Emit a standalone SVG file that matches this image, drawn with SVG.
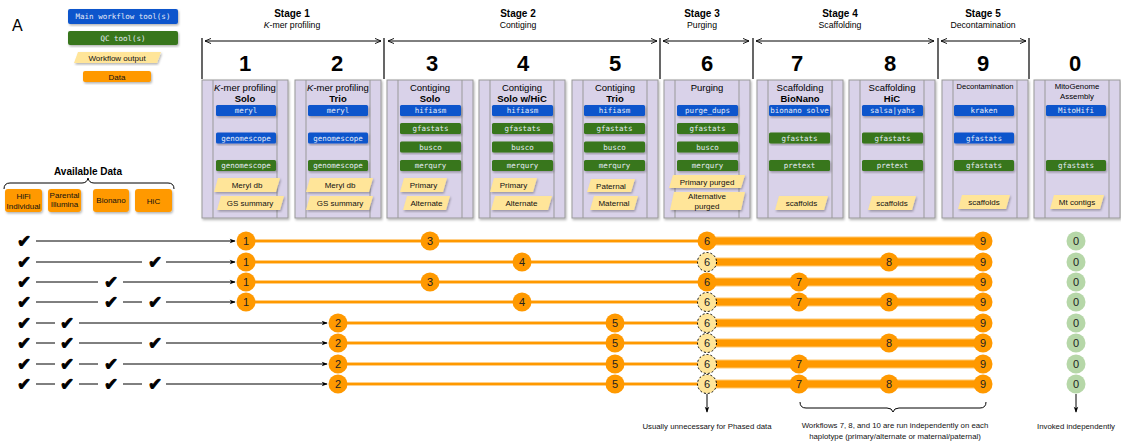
<svg xmlns="http://www.w3.org/2000/svg" width="1121" height="445" viewBox="0 0 1121 445">
<defs>
<filter id="sh" x="-20%" y="-20%" width="140%" height="140%"><feDropShadow dx="1" dy="1.5" stdDeviation="0.8" flood-color="#000" flood-opacity="0.3"/></filter>
<marker id="ah2" viewBox="0 0 8 8" refX="7" refY="4" markerWidth="7" markerHeight="7" orient="auto-start-reverse" markerUnits="userSpaceOnUse"><path d="M0,1 L7,4 L0,7" fill="none" stroke="#000" stroke-width="1"/></marker>
<marker id="ah" viewBox="0 0 8 8" refX="7" refY="4" markerWidth="7" markerHeight="6" orient="auto" markerUnits="userSpaceOnUse"><path d="M0,1 L8,4 L0,7 L2,4 Z" fill="#000"/></marker>
</defs>
<style>
text{font-family:"Liberation Sans",Arial,sans-serif;fill:#000}
.mono{font-family:"DejaVu Sans Mono","Liberation Mono",monospace;font-size:7.5px;fill:#e6ebf7;text-anchor:middle}
.blue{fill:#1155cc}
.green{fill:#38761d}
.out{fill:#ffe599}
.ot{font-size:8px;text-anchor:middle;fill:#111}
.box{fill:#d9d2e9;stroke:#999;stroke-width:1}
.inner{stroke:#999;stroke-width:1}
.bt{font-size:9.5px;text-anchor:middle}
.bb{font-size:9.5px;text-anchor:middle;font-weight:bold}
.st{font-size:10px;font-weight:bold;text-anchor:middle}
.ss{font-size:8.7px;text-anchor:middle}
.num{font-size:22px;font-weight:bold;text-anchor:middle}
.vl{stroke:#000;stroke-width:1.2}
.dbl{stroke:#000;stroke-width:1;marker-start:url(#ah2);marker-end:url(#ah2)}
.data{fill:#ff9900}
.dt{font-size:8px;text-anchor:middle;fill:#111}
.chk{font-family:"DejaVu Sans",sans-serif;font-size:17px;text-anchor:middle;fill:#000;stroke:#000;stroke-width:0.9;stroke-linejoin:round}
.bl{stroke:#000;stroke-width:1}
.bla{stroke:#000;stroke-width:1;marker-end:url(#ah)}
.thin0{stroke:#ffd08a;stroke-width:4}
.thin{stroke:#ff9900;stroke-width:2}
.thick0{stroke:#ffc870;stroke-width:9}
.thick{stroke:#ff9900;stroke-width:7}
.c{fill:#ff9900}
.cd{fill:#ffe599;stroke:#000;stroke-width:1;stroke-dasharray:2,2}
.cg{fill:#b6d7a8}
.ct{font-size:11px;text-anchor:middle;fill:#222}
.note{font-size:7.8px;text-anchor:middle;fill:#111}
</style>

<g id="legend">
<text x="12" y="31" style="font-size:16px">A</text>
<rect x="68" y="9" width="110" height="15" rx="2" class="blue" filter="url(#sh)"/>
<text x="123" y="19" class="mono">Main workflow tool(s)</text>
<rect x="68" y="31" width="110" height="14" rx="2" class="green" filter="url(#sh)"/>
<text x="123" y="40.5" class="mono">QC tool(s)</text>
<path d="M78,52 L161,52 L157,63 L74,63 Z" class="out" filter="url(#sh)"/>
<text x="117" y="60.5" class="ot">Workflow output</text>
<rect x="83" y="71" width="68" height="11" rx="2" class="data" filter="url(#sh)"/>
<text x="117" y="79.5" class="dt">Data</text>
</g>

<g id="stages">
<text x="292" y="17" class="st">Stage 1</text>
<text x="292" y="28" class="ss"><tspan font-style="italic">K</tspan>-mer profiling</text>
<text x="518" y="17" class="st">Stage 2</text>
<text x="518" y="28" class="ss">Contiging</text>
<text x="702" y="17" class="st">Stage 3</text>
<text x="702" y="28" class="ss">Purging</text>
<text x="840" y="17" class="st">Stage 4</text>
<text x="840" y="28" class="ss">Scaffolding</text>
<text x="983" y="17" class="st">Stage 5</text>
<text x="983" y="28" class="ss">Decontamination</text>
<line x1="202" y1="38" x2="202" y2="79" class="vl"/>
<line x1="384" y1="38" x2="384" y2="79" class="vl"/>
<line x1="660" y1="38" x2="660" y2="79" class="vl"/>
<line x1="753" y1="38" x2="753" y2="79" class="vl"/>
<line x1="938" y1="38" x2="938" y2="79" class="vl"/>
<line x1="1029" y1="38" x2="1029" y2="79" class="vl"/>
<line x1="205" y1="41" x2="381" y2="41" class="dbl"/>
<line x1="388" y1="41" x2="657" y2="41" class="dbl"/>
<line x1="663" y1="41" x2="749" y2="41" class="dbl"/>
<line x1="756" y1="41" x2="934" y2="41" class="dbl"/>
<line x1="941" y1="41" x2="1026" y2="41" class="dbl"/>
<text x="245" y="71" class="num">1</text>
<text x="337" y="71" class="num">2</text>
<text x="432" y="71" class="num">3</text>
<text x="523" y="71" class="num">4</text>
<text x="615" y="71" class="num">5</text>
<text x="707" y="71" class="num">6</text>
<text x="797" y="71" class="num">7</text>
<text x="890" y="71" class="num">8</text>
<text x="983" y="71" class="num">9</text>
<text x="1075" y="71" class="num">0</text>
</g>

<g id="wf1">
<rect x="202" y="80" width="86" height="138" class="box" filter="url(#sh)"/>
<line x1="213" y1="80" x2="213" y2="218" class="inner"/><line x1="277" y1="80" x2="277" y2="218" class="inner"/>
<text x="245" y="91" class="bt"><tspan font-style="italic">K</tspan>-mer profiling</text>
<text x="245" y="102" class="bb">Solo</text>
<rect x="216" y="105" width="60" height="11" rx="1.5" class="blue" filter="url(#sh)"/><text x="246" y="113" class="mono">meryl</text>
<rect x="216" y="132.5" width="60" height="11" rx="1.5" class="blue" filter="url(#sh)"/><text x="246" y="140.5" class="mono">genomescope</text>
<rect x="216" y="160" width="60" height="11" rx="1.5" class="green" filter="url(#sh)"/><text x="246" y="168" class="mono">genomescope</text>
<path d="M218,178 L280,178 L276,192 L214,192 Z" class="out" filter="url(#sh)"/><text x="247" y="188" class="ot">Meryl db</text>
<path d="M221,196 L284,196 L280,210 L217,210 Z" class="out" filter="url(#sh)"/><text x="250" y="206" class="ot">GS summary</text>
</g>

<g id="wf2">
<rect x="295" y="80" width="86" height="138" class="box" filter="url(#sh)"/>
<line x1="306" y1="80" x2="306" y2="218" class="inner"/><line x1="370" y1="80" x2="370" y2="218" class="inner"/>
<text x="338" y="91" class="bt"><tspan font-style="italic">K</tspan>-mer profiling</text>
<text x="338" y="102" class="bb">Trio</text>
<rect x="308" y="105" width="60" height="11" rx="1.5" class="blue" filter="url(#sh)"/><text x="338" y="113" class="mono">meryl</text>
<rect x="308" y="132.5" width="60" height="11" rx="1.5" class="blue" filter="url(#sh)"/><text x="338" y="140.5" class="mono">genomescope</text>
<rect x="308" y="160" width="60" height="11" rx="1.5" class="green" filter="url(#sh)"/><text x="338" y="168" class="mono">genomescope</text>
<path d="M310,178 L373,178 L369,192 L306,192 Z" class="out" filter="url(#sh)"/><text x="340" y="188" class="ot">Meryl db</text>
<path d="M310,196 L373,196 L369,210 L306,210 Z" class="out" filter="url(#sh)"/><text x="340" y="206" class="ot">GS summary</text>
</g>

<g id="wf3">
<rect x="387" y="80" width="86" height="138" class="box" filter="url(#sh)"/>
<line x1="398" y1="80" x2="398" y2="218" class="inner"/><line x1="462" y1="80" x2="462" y2="218" class="inner"/>
<text x="430" y="91" class="bt">Contiging</text>
<text x="430" y="102" class="bb">Solo</text>
<rect x="400" y="105" width="61" height="11" rx="1.5" class="blue" filter="url(#sh)"/><text x="430.5" y="113" class="mono">hifiasm</text>
<rect x="400" y="123" width="61" height="11" rx="1.5" class="green" filter="url(#sh)"/><text x="430.5" y="131" class="mono">gfastats</text>
<rect x="400" y="141.5" width="61" height="11" rx="1.5" class="green" filter="url(#sh)"/><text x="430.5" y="149.5" class="mono">busco</text>
<rect x="400" y="160" width="61" height="11" rx="1.5" class="green" filter="url(#sh)"/><text x="430.5" y="168" class="mono">merqury</text>
<path d="M404,178 L447,178 L443,192 L400,192 Z" class="out" filter="url(#sh)"/><text x="423.5" y="188" class="ot">Primary</text>
<path d="M407,196 L450,196 L446,210 L403,210 Z" class="out" filter="url(#sh)"/><text x="426.5" y="206" class="ot">Alternate</text>
</g>

<g id="wf4">
<rect x="479" y="80" width="86" height="138" class="box" filter="url(#sh)"/>
<line x1="490" y1="80" x2="490" y2="218" class="inner"/><line x1="554" y1="80" x2="554" y2="218" class="inner"/>
<text x="522" y="91" class="bt">Contiging</text>
<text x="522" y="102" class="bb">Solo w/HiC</text>
<rect x="492" y="105" width="61" height="11" rx="1.5" class="blue" filter="url(#sh)"/><text x="522.5" y="113" class="mono">hifiasm</text>
<rect x="492" y="123" width="61" height="11" rx="1.5" class="green" filter="url(#sh)"/><text x="522.5" y="131" class="mono">gfastats</text>
<rect x="492" y="141.5" width="61" height="11" rx="1.5" class="green" filter="url(#sh)"/><text x="522.5" y="149.5" class="mono">busco</text>
<rect x="492" y="160" width="61" height="11" rx="1.5" class="green" filter="url(#sh)"/><text x="522.5" y="168" class="mono">merqury</text>
<path d="M494,178 L537,178 L533,192 L490,192 Z" class="out" filter="url(#sh)"/><text x="513.5" y="188" class="ot">Primary</text>
<path d="M495,196 L552,196 L548,210 L491,210 Z" class="out" filter="url(#sh)"/><text x="521.5" y="206" class="ot">Alternate</text>
</g>

<g id="wf5">
<rect x="572" y="80" width="86" height="138" class="box" filter="url(#sh)"/>
<line x1="583" y1="80" x2="583" y2="218" class="inner"/><line x1="647" y1="80" x2="647" y2="218" class="inner"/>
<text x="615" y="91" class="bt">Contiging</text>
<text x="615" y="102" class="bb">Trio</text>
<rect x="584" y="105" width="61" height="11" rx="1.5" class="blue" filter="url(#sh)"/><text x="614.5" y="113" class="mono">hifiasm</text>
<rect x="584" y="123" width="61" height="11" rx="1.5" class="green" filter="url(#sh)"/><text x="614.5" y="131" class="mono">gfastats</text>
<rect x="584" y="141.5" width="61" height="11" rx="1.5" class="green" filter="url(#sh)"/><text x="614.5" y="149.5" class="mono">busco</text>
<rect x="584" y="160" width="61" height="11" rx="1.5" class="green" filter="url(#sh)"/><text x="614.5" y="168" class="mono">merqury</text>
<path d="M591,179 L635,179 L631,192 L587,192 Z" class="out" filter="url(#sh)"/><text x="611" y="188.5" class="ot">Paternal</text>
<path d="M594,196 L638,196 L634,210 L590,210 Z" class="out" filter="url(#sh)"/><text x="614" y="206" class="ot">Maternal</text>
</g>

<g id="wf6">
<rect x="664" y="80" width="86" height="138" class="box" filter="url(#sh)"/>
<line x1="675" y1="80" x2="675" y2="218" class="inner"/><line x1="739" y1="80" x2="739" y2="218" class="inner"/>
<text x="707" y="91" class="bt">Purging</text>
<rect x="677" y="105" width="61" height="11" rx="1.5" class="blue" filter="url(#sh)"/><text x="707.5" y="113" class="mono">purge_dups</text>
<rect x="677" y="123" width="61" height="11" rx="1.5" class="green" filter="url(#sh)"/><text x="707.5" y="131" class="mono">gfastats</text>
<rect x="677" y="141.5" width="61" height="11" rx="1.5" class="green" filter="url(#sh)"/><text x="707.5" y="149.5" class="mono">busco</text>
<rect x="677" y="160" width="61" height="11" rx="1.5" class="green" filter="url(#sh)"/><text x="707.5" y="168" class="mono">merqury</text>
<path d="M673,175 L745,175 L741,188 L669,188 Z" class="out" filter="url(#sh)"/><text x="707" y="184.5" class="ot">Primary purged</text>
<path d="M674,192 L745,192 L741,210 L670,210 Z" class="out" filter="url(#sh)"/><text x="707" y="199" class="ot">Alternative</text><text x="707" y="208.5" class="ot">purged</text>
</g>

<g id="wf7">
<rect x="757" y="80" width="86" height="138" class="box" filter="url(#sh)"/>
<line x1="768" y1="80" x2="768" y2="218" class="inner"/><line x1="832" y1="80" x2="832" y2="218" class="inner"/>
<text x="800" y="91" class="bt">Scaffolding</text>
<text x="800" y="102" class="bb">BioNano</text>
<rect x="769" y="105" width="61" height="11" rx="1.5" class="blue" filter="url(#sh)"/><text x="799.5" y="113" class="mono">bionano solve</text>
<rect x="769" y="132.5" width="61" height="11" rx="1.5" class="green" filter="url(#sh)"/><text x="799.5" y="140.5" class="mono">gfastats</text>
<rect x="769" y="160" width="61" height="11" rx="1.5" class="green" filter="url(#sh)"/><text x="799.5" y="168" class="mono">pretext</text>
<path d="M779,196 L828,196 L824,210 L775,210 Z" class="out" filter="url(#sh)"/><text x="801.5" y="206" class="ot">scaffolds</text>
</g>

<g id="wf8">
<rect x="849" y="80" width="86" height="138" class="box" filter="url(#sh)"/>
<line x1="860" y1="80" x2="860" y2="218" class="inner"/><line x1="924" y1="80" x2="924" y2="218" class="inner"/>
<text x="892" y="91" class="bt">Scaffolding</text>
<text x="892" y="102" class="bb">HiC</text>
<rect x="862" y="105" width="61" height="11" rx="1.5" class="blue" filter="url(#sh)"/><text x="892.5" y="113" class="mono">salsa|yahs</text>
<rect x="862" y="132.5" width="61" height="11" rx="1.5" class="green" filter="url(#sh)"/><text x="892.5" y="140.5" class="mono">gfastats</text>
<rect x="862" y="160" width="61" height="11" rx="1.5" class="green" filter="url(#sh)"/><text x="892.5" y="168" class="mono">pretext</text>
<path d="M872,196 L916,196 L912,210 L868,210 Z" class="out" filter="url(#sh)"/><text x="892" y="206" class="ot">scaffolds</text>
</g>

<g id="wf9">
<rect x="942" y="80" width="86" height="138" class="box" filter="url(#sh)"/>
<line x1="953" y1="80" x2="953" y2="218" class="inner"/><line x1="1017" y1="80" x2="1017" y2="218" class="inner"/>
<text x="985" y="89" class="bt" style="font-size:7.6px">Decontamination</text>
<rect x="954" y="105" width="60" height="11" rx="1.5" class="blue" filter="url(#sh)"/><text x="984" y="113" class="mono">kraken</text>
<rect x="954" y="132.5" width="60" height="11" rx="1.5" class="blue" filter="url(#sh)"/><text x="984" y="140.5" class="mono">gfastats</text>
<rect x="954" y="160" width="60" height="11" rx="1.5" class="green" filter="url(#sh)"/><text x="984" y="168" class="mono">gfastats</text>
<path d="M962,195 L1010,195 L1006,209 L958,209 Z" class="out" filter="url(#sh)"/><text x="984" y="205" class="ot">scaffolds</text>
</g>

<g id="wf0">
<rect x="1034" y="80" width="86" height="138" class="box" filter="url(#sh)"/>
<line x1="1045" y1="80" x2="1045" y2="218" class="inner"/><line x1="1109" y1="80" x2="1109" y2="218" class="inner"/>
<text x="1077" y="89" class="bt" style="font-size:7.8px">MitoGenome</text>
<text x="1077" y="99" class="bt" style="font-size:7.8px">Assembly</text>
<rect x="1046" y="105" width="60" height="11" rx="1.5" class="blue" filter="url(#sh)"/><text x="1076" y="113" class="mono">MitoHifi</text>
<rect x="1046" y="160" width="60" height="11" rx="1.5" class="green" filter="url(#sh)"/><text x="1076" y="168" class="mono">gfastats</text>
<path d="M1054,195 L1104,195 L1100,209 L1050,209 Z" class="out" filter="url(#sh)"/><text x="1077" y="205" class="ot">Mt contigs</text>
</g>

<g id="available-data">
<text x="88" y="175" style="font-size:10px;font-weight:bold;text-anchor:middle">Available Data</text>
<path d="M4,189 Q4,183 10,183 L82,183 Q87,183 88,178 Q89,183 94,183 L168,183 Q174,183 174,189" fill="none" stroke="#000" stroke-width="1"/>
<rect x="5" y="189" width="37" height="23" rx="3" class="data" filter="url(#sh)"/><text x="23.5" y="199" class="dt">HiFi</text><text x="23.5" y="208.5" class="dt">Individual</text>
<rect x="48" y="189" width="33" height="23" rx="3" class="data" filter="url(#sh)"/><text x="64.5" y="197.5" class="dt">Parental</text><text x="64.5" y="207" class="dt">Illumina</text>
<rect x="93" y="189" width="36" height="23" rx="3" class="data" filter="url(#sh)"/><text x="111" y="203" class="dt">Bionano</text>
<rect x="135" y="189" width="37" height="23" rx="3" class="data" filter="url(#sh)"/><text x="153.5" y="204" class="dt">HiC</text>
</g>

<g id="connectors">
<line x1="36" y1="241" x2="235" y2="241" class="bla"/>
<line x1="36" y1="262" x2="142" y2="262" class="bl"/><line x1="166" y1="262" x2="235" y2="262" class="bla"/>
<line x1="36" y1="282" x2="98" y2="282" class="bl"/><line x1="123" y1="282" x2="235" y2="282" class="bla"/>
<line x1="36" y1="302" x2="98" y2="302" class="bl"/><line x1="123" y1="302" x2="142" y2="302" class="bl"/><line x1="166" y1="302" x2="235" y2="302" class="bla"/>
<line x1="36" y1="323" x2="55" y2="323" class="bl"/><line x1="79" y1="323" x2="327" y2="323" class="bla"/>
<line x1="36" y1="343" x2="55" y2="343" class="bl"/><line x1="79" y1="343" x2="142" y2="343" class="bl"/><line x1="166" y1="343" x2="327" y2="343" class="bla"/>
<line x1="36" y1="364" x2="55" y2="364" class="bl"/><line x1="79" y1="364" x2="98" y2="364" class="bl"/><line x1="123" y1="364" x2="327" y2="364" class="bla"/>
<line x1="36" y1="384" x2="55" y2="384" class="bl"/><line x1="79" y1="384" x2="98" y2="384" class="bl"/><line x1="123" y1="384" x2="142" y2="384" class="bl"/><line x1="166" y1="384" x2="327" y2="384" class="bla"/>
<g class="thin0">
<line x1="246" y1="241" x2="707" y2="241"/><line x1="246" y1="262" x2="707" y2="262"/><line x1="246" y1="282" x2="707" y2="282"/><line x1="246" y1="302" x2="707" y2="302"/>
<line x1="338" y1="323" x2="707" y2="323"/><line x1="338" y1="343" x2="707" y2="343"/><line x1="338" y1="364" x2="707" y2="364"/><line x1="338" y1="384" x2="707" y2="384"/>
</g>
<g class="thin">
<line x1="246" y1="241" x2="707" y2="241"/><line x1="246" y1="262" x2="707" y2="262"/><line x1="246" y1="282" x2="707" y2="282"/><line x1="246" y1="302" x2="707" y2="302"/>
<line x1="338" y1="323" x2="707" y2="323"/><line x1="338" y1="343" x2="707" y2="343"/><line x1="338" y1="364" x2="707" y2="364"/><line x1="338" y1="384" x2="707" y2="384"/>
</g>
<g class="thick0">
<line x1="707" y1="241" x2="983" y2="241"/><line x1="707" y1="262" x2="983" y2="262"/><line x1="707" y1="282" x2="983" y2="282"/><line x1="707" y1="302" x2="983" y2="302"/>
<line x1="707" y1="323" x2="983" y2="323"/><line x1="707" y1="343" x2="983" y2="343"/><line x1="707" y1="364" x2="983" y2="364"/><line x1="707" y1="384" x2="983" y2="384"/>
</g>
<g class="thick">
<line x1="707" y1="241" x2="983" y2="241"/><line x1="707" y1="262" x2="983" y2="262"/><line x1="707" y1="282" x2="983" y2="282"/><line x1="707" y1="302" x2="983" y2="302"/>
<line x1="707" y1="323" x2="983" y2="323"/><line x1="707" y1="343" x2="983" y2="343"/><line x1="707" y1="364" x2="983" y2="364"/><line x1="707" y1="384" x2="983" y2="384"/>
</g>
<line x1="707" y1="394" x2="707" y2="412" class="bla"/>
<line x1="1076" y1="394" x2="1076" y2="412" class="bla"/>
<path d="M800,402 Q800,408 806,408 L887,408 Q892,408 893,412 Q894,408 899,408 L980,408 Q986,408 986,402" fill="none" stroke="#000" stroke-width="1"/>
</g>

<g id="checks">
<text x="24" y="247" class="chk">✔</text>
<text x="24" y="268" class="chk">✔</text><text x="155" y="268" class="chk">✔</text>
<text x="24" y="288" class="chk">✔</text><text x="111" y="288" class="chk">✔</text>
<text x="24" y="308" class="chk">✔</text><text x="111" y="308" class="chk">✔</text><text x="155" y="308" class="chk">✔</text>
<text x="24" y="329" class="chk">✔</text><text x="67" y="329" class="chk">✔</text>
<text x="24" y="349" class="chk">✔</text><text x="67" y="349" class="chk">✔</text><text x="155" y="349" class="chk">✔</text>
<text x="24" y="370" class="chk">✔</text><text x="67" y="370" class="chk">✔</text><text x="111" y="370" class="chk">✔</text>
<text x="24" y="390" class="chk">✔</text><text x="67" y="390" class="chk">✔</text><text x="111" y="390" class="chk">✔</text><text x="155" y="390" class="chk">✔</text>
</g>

<g id="row1">
<circle cx="246" cy="241" r="9.5" class="c"/><text x="246" y="245" class="ct">1</text>
<circle cx="430" cy="241" r="9.5" class="c"/><text x="430" y="245" class="ct">3</text>
<circle cx="707" cy="241" r="9.5" class="c"/><text x="707" y="245" class="ct">6</text>
<circle cx="983" cy="241" r="9.5" class="c"/><text x="983" y="245" class="ct">9</text>
<circle cx="1076" cy="241" r="9.5" class="cg"/><text x="1076" y="245" class="ct">0</text>
</g>
<g id="row2">
<circle cx="246" cy="262" r="9.5" class="c"/><text x="246" y="266" class="ct">1</text>
<circle cx="522" cy="262" r="9.5" class="c"/><text x="522" y="266" class="ct">4</text>
<circle cx="707" cy="262" r="9.5" class="cd"/><text x="707" y="266" class="ct">6</text>
<circle cx="889" cy="262" r="9.5" class="c"/><text x="889" y="266" class="ct">8</text>
<circle cx="983" cy="262" r="9.5" class="c"/><text x="983" y="266" class="ct">9</text>
<circle cx="1076" cy="262" r="9.5" class="cg"/><text x="1076" y="266" class="ct">0</text>
</g>
<g id="row3">
<circle cx="246" cy="282" r="9.5" class="c"/><text x="246" y="286" class="ct">1</text>
<circle cx="430" cy="282" r="9.5" class="c"/><text x="430" y="286" class="ct">3</text>
<circle cx="707" cy="282" r="9.5" class="c"/><text x="707" y="286" class="ct">6</text>
<circle cx="799" cy="282" r="9.5" class="c"/><text x="799" y="286" class="ct">7</text>
<circle cx="983" cy="282" r="9.5" class="c"/><text x="983" y="286" class="ct">9</text>
<circle cx="1076" cy="282" r="9.5" class="cg"/><text x="1076" y="286" class="ct">0</text>
</g>
<g id="row4">
<circle cx="246" cy="302" r="9.5" class="c"/><text x="246" y="306" class="ct">1</text>
<circle cx="522" cy="302" r="9.5" class="c"/><text x="522" y="306" class="ct">4</text>
<circle cx="707" cy="302" r="9.5" class="cd"/><text x="707" y="306" class="ct">6</text>
<circle cx="799" cy="302" r="9.5" class="c"/><text x="799" y="306" class="ct">7</text>
<circle cx="889" cy="302" r="9.5" class="c"/><text x="889" y="306" class="ct">8</text>
<circle cx="983" cy="302" r="9.5" class="c"/><text x="983" y="306" class="ct">9</text>
<circle cx="1076" cy="302" r="9.5" class="cg"/><text x="1076" y="306" class="ct">0</text>
</g>
<g id="row5">
<circle cx="338" cy="323" r="9.5" class="c"/><text x="338" y="327" class="ct">2</text>
<circle cx="615" cy="323" r="9.5" class="c"/><text x="615" y="327" class="ct">5</text>
<circle cx="707" cy="323" r="9.5" class="cd"/><text x="707" y="327" class="ct">6</text>
<circle cx="983" cy="323" r="9.5" class="c"/><text x="983" y="327" class="ct">9</text>
<circle cx="1076" cy="323" r="9.5" class="cg"/><text x="1076" y="327" class="ct">0</text>
</g>
<g id="row6">
<circle cx="338" cy="343" r="9.5" class="c"/><text x="338" y="347" class="ct">2</text>
<circle cx="615" cy="343" r="9.5" class="c"/><text x="615" y="347" class="ct">5</text>
<circle cx="707" cy="343" r="9.5" class="cd"/><text x="707" y="347" class="ct">6</text>
<circle cx="889" cy="343" r="9.5" class="c"/><text x="889" y="347" class="ct">8</text>
<circle cx="983" cy="343" r="9.5" class="c"/><text x="983" y="347" class="ct">9</text>
<circle cx="1076" cy="343" r="9.5" class="cg"/><text x="1076" y="347" class="ct">0</text>
</g>
<g id="row7">
<circle cx="338" cy="364" r="9.5" class="c"/><text x="338" y="368" class="ct">2</text>
<circle cx="615" cy="364" r="9.5" class="c"/><text x="615" y="368" class="ct">5</text>
<circle cx="707" cy="364" r="9.5" class="cd"/><text x="707" y="368" class="ct">6</text>
<circle cx="799" cy="364" r="9.5" class="c"/><text x="799" y="368" class="ct">7</text>
<circle cx="983" cy="364" r="9.5" class="c"/><text x="983" y="368" class="ct">9</text>
<circle cx="1076" cy="364" r="9.5" class="cg"/><text x="1076" y="368" class="ct">0</text>
</g>
<g id="row8">
<circle cx="338" cy="384" r="9.5" class="c"/><text x="338" y="388" class="ct">2</text>
<circle cx="615" cy="384" r="9.5" class="c"/><text x="615" y="388" class="ct">5</text>
<circle cx="707" cy="384" r="9.5" class="cd"/><text x="707" y="388" class="ct">6</text>
<circle cx="799" cy="384" r="9.5" class="c"/><text x="799" y="388" class="ct">7</text>
<circle cx="889" cy="384" r="9.5" class="c"/><text x="889" y="388" class="ct">8</text>
<circle cx="983" cy="384" r="9.5" class="c"/><text x="983" y="388" class="ct">9</text>
<circle cx="1076" cy="384" r="9.5" class="cg"/><text x="1076" y="388" class="ct">0</text>
</g>

<g id="notes">
<text x="707" y="429" class="note">Usually unnecessary for Phased data</text>
<text x="895" y="428" class="note">Workflows 7, 8, and 10 are run independently on each</text>
<text x="895" y="439" class="note">haplotype (primary/alternate or maternal/paternal)</text>
<text x="1076" y="429" class="note">Invoked independently</text>
</g>
</svg>
